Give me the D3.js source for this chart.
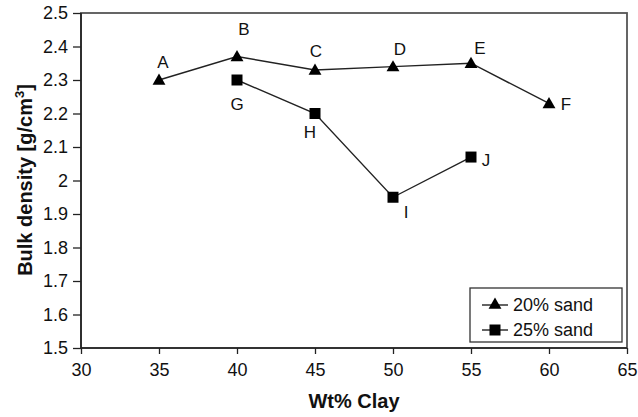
<!DOCTYPE html>
<html>
<head>
<meta charset="utf-8">
<script src="https://cdn.jsdelivr.net/npm/d3@7"></script>
<style>
body { margin: 0; background: #fff; }
text { font-family: "Liberation Sans", Arial, sans-serif; fill: #111; }
</style>
</head>
<body>
<script>
// data
var clay20 = [35, 40, 45, 50, 55, 60];
var dens20 = [2.30, 2.37, 2.33, 2.34, 2.35, 2.23];
var labels20 = ['A', 'B', 'C', 'D', 'E', 'F'];

var clay25 = [40, 45, 50, 55];
var dens25 = [2.30, 2.20, 1.95, 2.07];
var labels25 = ['G', 'H', 'I', 'J'];

var xTicks = [30, 35, 40, 45, 50, 55, 60, 65];
var yTicks = [1.5, 1.6, 1.7, 1.8, 1.9, 2, 2.1, 2.2, 2.3, 2.4, 2.5];

var width = 638, height = 417;
var margin = {left: 81, right: 11, top: 13, bottom: 69};

var x = d3.scaleLinear().domain([30, 65]).range([margin.left, width - margin.right]);
var y = d3.scaleLinear().domain([1.5, 2.5]).range([height - margin.bottom, margin.top]);

var svg = d3.select("body").append("svg")
    .attr("width", width)
    .attr("height", height);

// plot frame (top and right)
svg.append("rect")
    .attr("x", x(30)).attr("y", y(2.5))
    .attr("width", x(65) - x(30)).attr("height", y(1.5) - y(2.5))
    .attr("fill", "none").attr("stroke", "#555").attr("stroke-width", 1.8);

var xAxis = d3.axisBottom(x).tickValues(xTicks).tickSize(6).tickPadding(9).tickFormat(d3.format("d"));
var yAxis = d3.axisLeft(y).tickValues(yTicks).tickSize(8).tickPadding(5).tickFormat(function(d){ return String(d); });

var gx = svg.append("g")
    .attr("transform", "translate(0," + y(1.5) + ")")
    .call(xAxis);
var gy = svg.append("g")
    .attr("transform", "translate(" + x(30) + ",0)")
    .call(yAxis);

[gx, gy].forEach(function(g){
  g.select(".domain").attr("stroke", "#222").attr("stroke-width", 1.6);
  g.selectAll(".tick line").attr("stroke", "#222").attr("stroke-width", 1.3);
  g.selectAll(".tick text").attr("font-size", 18).attr("fill", "#111")
    .style("font-family", "'Liberation Sans', Arial, sans-serif");
});
gy.select(".domain").attr("d", "M0," + y(2.5) + "V" + y(1.5));
gx.select(".domain").attr("d", "M" + x(30) + ",0H" + x(65));

// axis titles
svg.append("text")
    .attr("x", (x(30) + x(65)) / 2)
    .attr("y", 408)
    .attr("text-anchor", "middle")
    .attr("font-size", 20)
    .attr("font-weight", "bold")
    .text("Wt% Clay");

var yt = svg.append("text")
    .attr("transform", "translate(32,180) rotate(-90)")
    .attr("text-anchor", "middle")
    .attr("font-size", 20)
    .attr("font-weight", "bold");
yt.append("tspan").text("Bulk density [g/cm");
yt.append("tspan").attr("font-size", 13).attr("dy", -8).text("3");
yt.append("tspan").attr("dy", 8).text("]");

var line = d3.line()
    .x(function(d){ return x(d[0]); })
    .y(function(d){ return y(d[1]); });

var pts20 = clay20.map(function(c, i){ return [c, dens20[i], labels20[i]]; });
var pts25 = clay25.map(function(c, i){ return [c, dens25[i], labels25[i]]; });

var tri = d3.symbol().type(d3.symbolTriangle).size(72);
var sq = d3.symbol().type(d3.symbolSquare).size(121);

svg.append("path").attr("d", line(pts20)).attr("fill", "none").attr("stroke", "#222").attr("stroke-width", 1.4);
svg.append("path").attr("d", line(pts25)).attr("fill", "none").attr("stroke", "#222").attr("stroke-width", 1.4);

svg.selectAll(".tri").data(pts20).enter().append("path")
    .attr("transform", function(d){ return "translate(" + x(d[0]) + "," + (y(d[1]) + 1) + ")"; })
    .attr("d", tri).attr("fill", "#000");
svg.selectAll(".sq").data(pts25).enter().append("path")
    .attr("transform", function(d){ return "translate(" + x(d[0]) + "," + y(d[1]) + ")"; })
    .attr("d", sq).attr("fill", "#000");

// point labels: offsets from the marker
var off20 = [[4, -12], [7, -22], [1, -13], [7, -12], [9, -9], [17, 7]];
var off25 = [[0, 30], [-5, 24], [13, 21], [15, 9]];

svg.selectAll(".lab20").data(pts20).enter().append("text")
    .attr("x", function(d, i){ return x(d[0]) + off20[i][0]; })
    .attr("y", function(d, i){ return y(d[1]) + off20[i][1]; })
    .attr("text-anchor", "middle").attr("font-size", 17)
    .text(function(d){ return d[2]; });
svg.selectAll(".lab25").data(pts25).enter().append("text")
    .attr("x", function(d, i){ return x(d[0]) + off25[i][0]; })
    .attr("y", function(d, i){ return y(d[1]) + off25[i][1]; })
    .attr("text-anchor", "middle").attr("font-size", 17)
    .text(function(d){ return d[2]; });

// legend
var lg = svg.append("g").attr("transform", "translate(470,288)");
lg.append("rect").attr("width", 152).attr("height", 54)
    .attr("fill", "#fff").attr("stroke", "#333").attr("stroke-width", 1.3);
var items = [{name: "20% sand", sym: tri}, {name: "25% sand", sym: sq}];
items.forEach(function(it, i){
  var yy = 17 + i * 25;
  lg.append("line").attr("x1", 12).attr("x2", 38).attr("y1", yy).attr("y2", yy)
      .attr("stroke", "#222").attr("stroke-width", 1.4);
  lg.append("path").attr("transform", "translate(25," + yy + ")")
      .attr("d", it.sym).attr("fill", "#000");
  lg.append("text").attr("x", 43).attr("y", yy + 6).attr("font-size", 18).text(it.name);
});
</script>
</body>
</html>
